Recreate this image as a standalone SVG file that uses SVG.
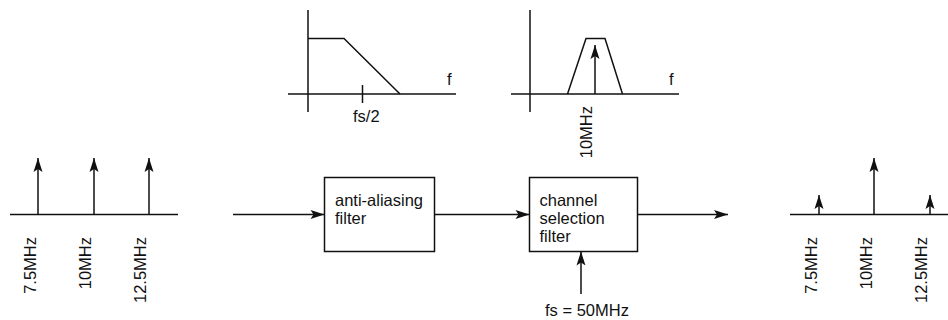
<svg xmlns="http://www.w3.org/2000/svg" width="948" height="320" viewBox="0 0 948 320">
<style>
.ln{stroke:#111;stroke-width:1.5;fill:none}
.bx{stroke:#111;stroke-width:1.5;fill:#fff}
.t{font-family:"Liberation Sans",Arial,sans-serif;font-size:16.5px;fill:#111}
.r{font-family:"Liberation Sans",Arial,sans-serif;font-size:16.5px;fill:#111;text-anchor:end}
.ar{marker-end:url(#ah)}
</style>
<defs>
<marker id="ah" markerUnits="userSpaceOnUse" markerWidth="16" markerHeight="10" viewBox="-15 -5 16 10" refX="0" refY="0" orient="auto">
<path d="M0,0 L-14,-4.5 L-11,0 L-14,4.5 Z" fill="#111"/>
</marker>
</defs>
<rect width="948" height="320" fill="#fff"/>

<g id="input-spectrum">
<line class="ln" x1="10" y1="214.5" x2="178" y2="214.5"/>
<line class="ln ar" x1="38" y1="214.5" x2="38" y2="158"/>
<line class="ln ar" x1="94" y1="214.5" x2="94" y2="158"/>
<line class="ln ar" x1="149" y1="214.5" x2="149" y2="158"/>
<text class="r" transform="translate(36,237) rotate(-90)">7.5MHz</text>
<text class="r" transform="translate(91,237) rotate(-90)">10MHz</text>
<text class="r" transform="translate(146,237) rotate(-90)">12.5MHz</text>
</g>

<g id="lpf-response">
<line class="ln" x1="308" y1="10" x2="308" y2="112"/>
<line class="ln" x1="288" y1="94" x2="456" y2="94"/>
<polyline class="ln" points="308,38.5 344,38.5 400,94"/>
<line class="ln" x1="362.5" y1="85" x2="362.5" y2="103"/>
<text class="t" x="353" y="121.5">fs/2</text>
<text class="t" x="447" y="85">f</text>
</g>

<g id="bpf-response">
<line class="ln" x1="530" y1="10" x2="530" y2="112"/>
<line class="ln" x1="511" y1="94" x2="679" y2="94"/>
<polyline class="ln" points="567.5,94 586,38.5 605,38.5 622.5,94"/>
<line class="ln ar" x1="595" y1="94" x2="595" y2="45"/>
<text class="t" x="669" y="85">f</text>
<text class="r" transform="translate(592,106) rotate(-90)">10MHz</text>
</g>

<g id="anti-aliasing-filter">
<rect class="bx" x="324.5" y="177.5" width="110" height="74"/>
<text class="t" x="335" y="206">anti-aliasing</text>
<text class="t" x="335" y="224">filter</text>
</g>

<g id="channel-selection-filter">
<rect class="bx" x="529.5" y="177.5" width="108" height="74"/>
<text class="t" x="539.5" y="206">channel</text>
<text class="t" x="539.5" y="224">selection</text>
<text class="t" x="539.5" y="242">filter</text>
</g>

<g id="clock-label">
<text class="t" x="545" y="316">fs = 50MHz</text>
</g>

<g id="connectors">
<line class="ln ar" x1="233" y1="214.5" x2="324.5" y2="214.5"/>
<line class="ln ar" x1="434.5" y1="214.5" x2="529.5" y2="214.5"/>
<line class="ln ar" x1="637.5" y1="214.5" x2="728" y2="214.5"/>
<line class="ln ar" x1="581" y1="294" x2="581" y2="251.5"/>
</g>

<g id="output-spectrum">
<line class="ln" x1="790" y1="214.5" x2="948" y2="214.5"/>
<line class="ln ar" x1="819" y1="214.5" x2="819" y2="195"/>
<line class="ln ar" x1="874" y1="214.5" x2="874" y2="158"/>
<line class="ln ar" x1="930" y1="214.5" x2="930" y2="195"/>
<text class="r" transform="translate(817,237) rotate(-90)">7.5MHz</text>
<text class="r" transform="translate(872,237) rotate(-90)">10MHz</text>
<text class="r" transform="translate(927,237) rotate(-90)">12.5MHz</text>
</g>
</svg>
